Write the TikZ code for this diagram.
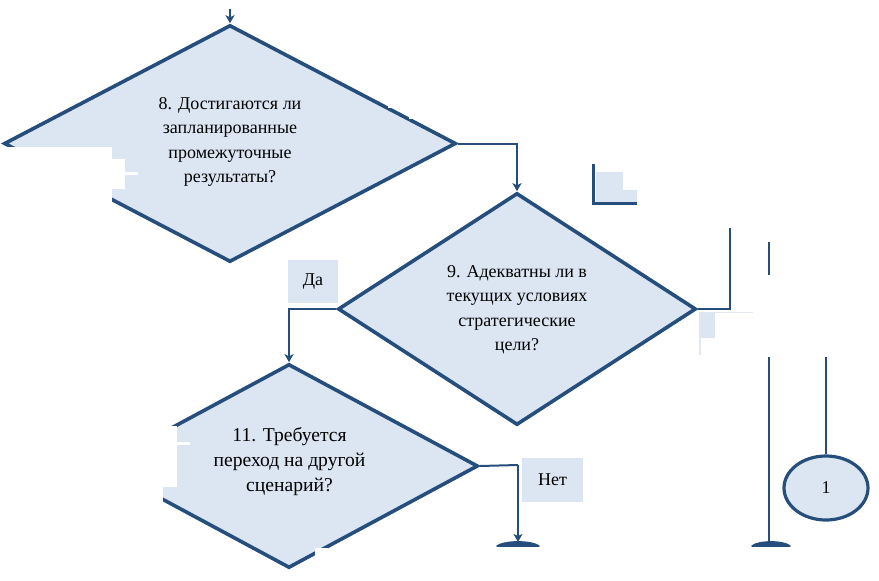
\documentclass[tikz,border=0pt]{standalone}
\usepackage{fontspec}
\setmainfont{Liberation Serif}
\usetikzlibrary{shapes.geometric,arrows.meta}
\definecolor{edgeblue}{RGB}{38,78,124}
\definecolor{fillblue}{RGB}{220,230,242}
\definecolor{faintline}{RGB}{226,231,238}
\tikzset{
  decision/.style={diamond,draw=edgeblue,fill=fillblue,line width=3.6pt,inner sep=0pt},
  txt/.style={align=center,font=\fontsize{18}{24.5}\selectfont,inner sep=0pt},
  bigtxt/.style={align=center,font=\fontsize{19.6}{25}\selectfont,inner sep=0pt},
  lbl/.style={fill=fillblue,inner sep=0pt,font=\fontsize{18}{22}\selectfont},
  conn/.style={draw=edgeblue,line width=2pt},
  arr/.style={conn,-{Stealth[length=8pt,width=9pt,inset=2pt]}},
  bar/.style={draw=edgeblue,line width=2pt},
  dome/.style={fill=edgeblue,draw=edgeblue,line width=1.5pt,line join=round},
  terminal/.style={ellipse,draw=edgeblue,fill=fillblue,line width=3.2pt,minimum width=84pt,minimum height=64pt,inner sep=0pt}
}
\begin{document}
\begin{tikzpicture}[x=1pt,y=-1pt]
\useasboundingbox (0,0) rectangle (879,581);
% ---- diamond 8
\node[decision,minimum width=452pt,minimum height=237pt] (d8) at (230,143.5) {};
\fill[white] (0,146.5) rectangle (112,202);
\fill[white] (112,159) rectangle (125,189);
\fill[white] (125,172) rectangle (138,175);
\fill[white] (388,100) rectangle (400,108);
\fill[white] (409,104) rectangle (420,119);
\node[txt] (t8) at (230,142) {8. Достигаются ли\\запланированные\\промежуточные\\результаты?};
\coordinate (in8) at (230,9);
\draw[arr] (in8) -- (d8.north);
% ---- diamond 9
\node[decision,minimum width=358pt,minimum height=232pt] (d9) at (517,309) {};
\node[txt] (t9) at (517,310) {9. Адекватны ли в\\текущих условиях\\стратегические\\цели?};
\draw[arr] (d8.east) -| (d9.north);
% ---- label Да
\node[lbl,minimum width=50pt,minimum height=43pt] (yes) at (313,281.5) {Да};
% ---- diamond 11
\node[decision,minimum width=378pt,minimum height=204pt] (d11) at (289,466) {};
\fill[white] (80,425.5) rectangle (177,487);
\fill[white] (80,487) rectangle (163,507);
\fill[white] (177,442) rectangle (190,445);
\fill[white] (315,548) rectangle (328,581);
\node[bigtxt] (t11) at (289.5,462) {11. Требуется\\переход на другой\\сценарий?};
\draw[arr] (d9.west) -| (d11.north);
% ---- label Нет
\node[lbl,minimum width=61pt,minimum height=44pt] (no) at (552.5,480) {Нет};
% ---- bottom domes (tops of cut-off connectors)
\coordinate (dm1) at (518,546);
\coordinate (dm2) at (771,546);
\draw[dome] ([xshift=-21pt]dm1) .. controls ([xshift=-13pt,yshift=5.5pt]dm1) and ([xshift=13pt,yshift=5.5pt]dm1) .. ([xshift=21pt]dm1) -- cycle;
\draw[dome] ([xshift=-19pt]dm2) .. controls ([xshift=-12pt,yshift=5.5pt]dm2) and ([xshift=12pt,yshift=5.5pt]dm2) .. ([xshift=19pt]dm2) -- cycle;
\coordinate (n11) at (518,465);
\draw[conn] (d11.east) -- (n11);
\draw[arr] (n11) -- ([yshift=4pt]dm1);
% ---- right side
\coordinate (up9) at (730,228);
\draw[conn] (d9.east) -| (up9);
\coordinate (s1) at (769,242);
\coordinate (s2) at (769,275);
\draw[bar] (s1) -- (s2);
\coordinate (l1) at (769,357);
\draw[bar] (l1) -- ([xshift=-2pt]dm2);
\node[terminal] (c1) at (826,488) {\fontsize{18}{22}\selectfont 1};
\coordinate (l3) at (826,357);
\draw[bar] (l3) -- (c1.north);
% faint fragment
\fill[fillblue] (700,313) rectangle (715,338);
\draw[faintline,line width=1.2pt] (700,355) -- (700,312.5) -- (753,312.5);
% ---- top L fragment
\fill[fillblue] (596,172) -- (623,172) -- (623,190) -- (637,190) -- (637,202) -- (596,202) -- cycle;
\draw[edgeblue,line width=3pt] (593,164) -- (593,203) -- (637,203);
\end{tikzpicture}
\end{document}
